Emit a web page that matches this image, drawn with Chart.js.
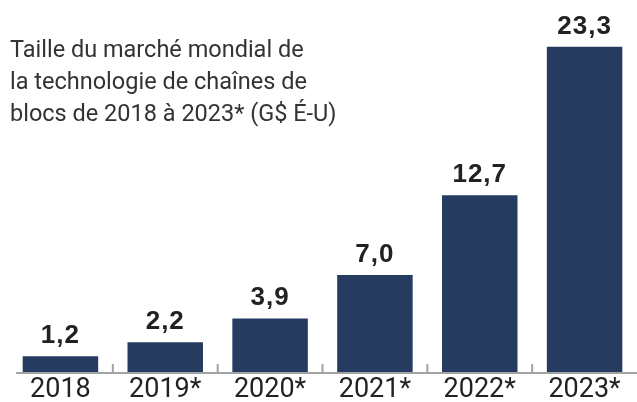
<!DOCTYPE html>
<html>
<head>
<meta charset="utf-8">
<script src="https://cdn.jsdelivr.net/npm/chart.js@4"></script>
<style>
  html, body { margin: 0; padding: 0; background: #fff; }
  #wrap { width: 637px; height: 402px; }
</style>
</head>
<body>
<div id="wrap"><canvas id="marketChart"></canvas></div>
<script>
const years = ["2018", "2019*", "2020*", "2021*", "2022*", "2023*"];
const marketSize = [1.2, 2.2, 3.9, 7.0, 12.7, 23.3];
const titleLines = [
  "Taille du marché mondial de",
  "la technologie de chaînes de",
  "blocs de 2018 à 2023* (G$ É-U)"
];

const barColor = '#253c60';

// title text in the top left corner
const titleText = {
  id: 'titleText',
  afterDraw(chart) {
    const ctx = chart.ctx;
    ctx.save();
    ctx.font = '23.5px Roboto';
    ctx.fillStyle = '#333';
    ctx.textAlign = 'left';
    ctx.textBaseline = 'alphabetic';
    titleLines.forEach((line, i) => ctx.fillText(line, 10, 57 + i * 32));
    ctx.restore();
  }
};

// value labels above each bar
const valueLabels = {
  id: 'valueLabels',
  afterDatasetsDraw(chart) {
    const ctx = chart.ctx;
    const meta = chart.getDatasetMeta(0);
    ctx.save();
    ctx.font = 'bold 26px "Liberation Sans"';
    ctx.letterSpacing = '1px';
    ctx.fillStyle = '#222';
    ctx.textAlign = 'center';
    ctx.textBaseline = 'alphabetic';
    meta.data.forEach((bar, i) => {
      const txt = marketSize[i].toFixed(1).replace('.', ',');
      ctx.fillText(txt, bar.x, bar.y - 13);
    });
    ctx.restore();
  }
};

// grey baseline with small upward ticks between categories
const baseAxis = {
  id: 'baseAxis',
  afterDatasetsDraw(chart) {
    const ctx = chart.ctx;
    const x = chart.scales.x;
    const y0 = chart.scales.y.getPixelForValue(0);
    ctx.save();
    ctx.strokeStyle = '#a3a3a3';
    ctx.lineWidth = 2;
    ctx.beginPath();
    ctx.moveTo(16, y0);
    ctx.lineTo(chart.width, y0);
    for (let i = 1; i < years.length; i++) {
      const bx = (x.getPixelForValue(i - 1) + x.getPixelForValue(i)) / 2;
      ctx.moveTo(bx, y0);
      ctx.lineTo(bx, y0 - 9);
    }
    ctx.stroke();
    ctx.restore();
  }
};

new Chart(document.getElementById('marketChart').getContext('2d'), {
  type: 'bar',
  data: {
    labels: years,
    datasets: [{
      data: marketSize,
      backgroundColor: barColor,
      borderWidth: 0,
      barPercentage: 0.72,
      categoryPercentage: 1
    }]
  },
  options: {
    responsive: true,
    maintainAspectRatio: false,
    animation: false,
    layout: { padding: { left: 8, right: -3, top: 9, bottom: -6 } },
    scales: {
      x: {
        grid: { display: false, drawTicks: false },
        border: { display: false },
        ticks: {
          color: '#222',
          padding: 4,
          font: { family: 'Roboto', size: 27, lineHeight: 1 }
        }
      },
      y: {
        display: false,
        min: 0,
        max: 26
      }
    },
    plugins: {
      legend: { display: false },
      tooltip: { enabled: false }
    }
  },
  plugins: [titleText, valueLabels, baseAxis]
});
</script>
</body>
</html>
